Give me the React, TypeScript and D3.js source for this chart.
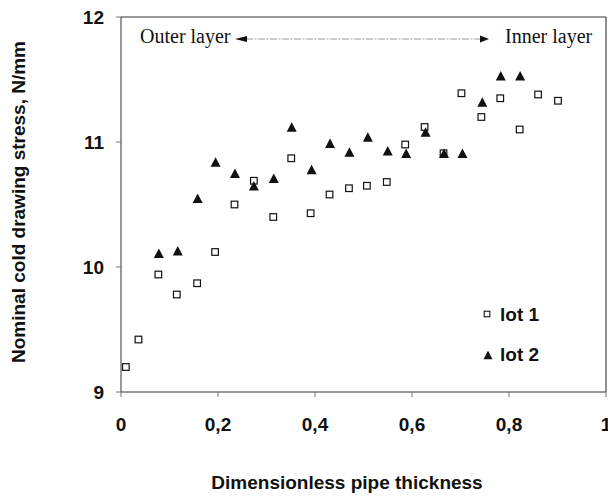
import React from "react";
import * as d3 from "d3";

const lot1X = [0.01, 0.036, 0.077, 0.115, 0.157, 0.194, 0.234, 0.274, 0.314, 0.351, 0.391, 0.43, 0.47, 0.507, 0.548, 0.586, 0.626, 0.665, 0.702, 0.743, 0.782, 0.822, 0.86, 0.901];
const lot1Y = [9.2, 9.42, 9.94, 9.78, 9.87, 10.12, 10.5, 10.69, 10.4, 10.87, 10.43, 10.58, 10.63, 10.65, 10.68, 10.98, 11.12, 10.91, 11.39, 11.2, 11.35, 11.1, 11.38, 11.33];
const lot2X = [0.078, 0.117, 0.158, 0.195, 0.235, 0.274, 0.315, 0.352, 0.393, 0.431, 0.471, 0.509, 0.55, 0.588, 0.628, 0.666, 0.704, 0.745, 0.783, 0.823];
const lot2Y = [10.11, 10.13, 10.55, 10.84, 10.75, 10.65, 10.71, 11.12, 10.78, 10.99, 10.92, 11.04, 10.93, 10.91, 11.08, 10.91, 10.91, 11.32, 11.53, 11.53];
const xTicks = [0, 0.2, 0.4, 0.6, 0.8, 1];
const xTickLabels = ["0", "0,2", "0,4", "0,6", "0,8", "1"];
const yTicks = [9, 10, 11, 12];
const yTickLabels = ["9", "10", "11", "12"];
const seriesNames = ["lot 1", "lot 2"];

const W = 608;
const H = 497;
const L = 121, R = 606, T = 17, B = 392;

const x = d3.scaleLinear().domain([0, 1]).range([L, R]);
const y = d3.scaleLinear().domain([9, 12]).range([B, T]);

const sans = "'Liberation Sans', Arial, sans-serif";
const serif = "'Liberation Serif', 'Times New Roman', serif";

function tri(cx: number, cy: number, w: number, h: number) {
  const p = d3.path();
  p.moveTo(cx, cy - h / 2);
  p.lineTo(cx + w / 2, cy + h / 2);
  p.lineTo(cx - w / 2, cy + h / 2);
  p.closePath();
  return p.toString();
}

export default function App() {
  const sq = 6.6;
  return (
    <svg width={W} height={H} style={{ position: "absolute", left: 0, top: 0, background: "#fff" }}>
      <rect x={0} y={0} width={W} height={H} fill="#fff" />
      {/* frame */}
      <line x1={L} y1={T} x2={R} y2={T} stroke="#333" strokeWidth={1} />
      <line x1={R} y1={T} x2={R} y2={B} stroke="#555" strokeWidth={1.3} />
      <line x1={L} y1={B} x2={R} y2={B} stroke="#333" strokeWidth={1} />
      <line x1={L} y1={T} x2={L} y2={B} stroke="#333" strokeWidth={1} />
      {/* ticks */}
      {yTicks.map((t, i) => (
        <g key={"y" + i}>
          <line x1={L - 5} x2={L} y1={y(t)} y2={y(t)} stroke="#777" strokeWidth={1} />
          <text x={104} y={y(t) + 6.5} textAnchor="end" fontFamily={sans} fontWeight="bold" fontSize={19} fill="#111">
            {yTickLabels[i]}
          </text>
        </g>
      ))}
      {xTicks.map((t, i) => (
        <g key={"x" + i}>
          <line x1={x(t)} x2={x(t)} y1={B} y2={B + 5} stroke="#777" strokeWidth={1} />
          <text x={x(t)} y={431} textAnchor="middle" fontFamily={sans} fontWeight="bold" fontSize={19} fill="#111">
            {xTickLabels[i]}
          </text>
        </g>
      ))}
      {/* axis titles */}
      <text x={347} y={489} textAnchor="middle" fontFamily={sans} fontWeight="bold" fontSize={19} fill="#111">
        Dimensionless pipe thickness
      </text>
      <text
        transform={`translate(25,202) rotate(-90)`}
        textAnchor="middle"
        fontFamily={sans}
        fontWeight="bold"
        fontSize={19}
        fill="#111"
      >
        Nominal cold drawing stress, N/mm
      </text>
      {/* annotation */}
      <text x={140} y={43} fontFamily={serif} fontSize={20} fill="#111">Outer layer</text>
      <text x={505} y={43} fontFamily={serif} fontSize={20} fill="#111">Inner layer</text>
      <line x1={246} x2={481} y1={39} y2={39} stroke="#999" strokeWidth={1} strokeDasharray="7,1.5,2,1.5" />
      <path d="M235,39 L247,36 L247,42 Z" fill="#111" />
      <path d="M489,39 L480,35.5 L480,42.5 Z" fill="#111" />
      {/* lot 1 squares */}
      {lot1X.map((v, i) => (
        <rect key={"a" + i} x={x(v) - sq / 2} y={y(lot1Y[i]) - sq / 2} width={sq} height={sq} fill="#fff" stroke="#111" strokeWidth={1.2} />
      ))}
      {/* lot 2 triangles */}
      {lot2X.map((v, i) => (
        <path key={"b" + i} d={tri(x(v), y(lot2Y[i]), 10, 9.5)} fill="#111" />
      ))}
      {/* legend */}
      <rect x={487 - 2.8} y={314 - 2.8} width={5.6} height={5.6} fill="#fff" stroke="#111" strokeWidth={1.1} />
      <text x={500} y={321} fontFamily={sans} fontWeight="bold" fontSize={19} fill="#111">{seriesNames[0]}</text>
      <path d={tri(488, 355, 9, 8.5)} fill="#111" />
      <text x={500} y={360.5} fontFamily={sans} fontWeight="bold" fontSize={19} fill="#111">{seriesNames[1]}</text>
    </svg>
  );
}
